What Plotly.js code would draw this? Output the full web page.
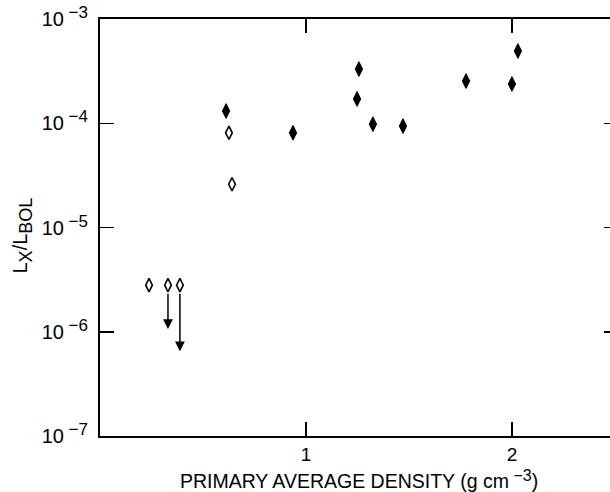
<!DOCTYPE html>
<html>
<head>
<meta charset="utf-8">
<script src="https://cdn.plot.ly/plotly-3.0.1.min.js"></script>
<style>
html, body { margin: 0; padding: 0; overflow: hidden; background: #fff; }
#chart { width: 618px; height: 492px; }
</style>
</head>
<body>
<div id="chart"></div>
<script>
// Detections (filled diamonds)
const filledX = [0.612, 0.937, 1.248, 1.257, 1.325, 1.471, 1.777, 2.000, 2.029];
const filledY = [1.31e-4, 8.1e-5, 1.71e-4, 3.31e-4, 9.8e-5, 9.4e-5, 2.54e-4, 2.38e-4, 4.93e-4];
// Open diamonds
const openX = [0.238, 0.330, 0.388, 0.626, 0.641];
const openY = [2.8e-6, 2.8e-6, 2.8e-6, 8.1e-5, 2.6e-5];
// Upper limits (arrows)
const limitX = [0.330, 0.388];
const limitFrom = [2.8e-6, 2.8e-6];
const limitTo = [1.06e-6, 6.5e-7];
// Ticks
const yTickVals = [1e-7, 1e-6, 1e-5, 1e-4, 1e-3];
const yExponents = ['−7', '−6', '−5', '−4', '−3'];
const xTickVals = [1, 2];
const xTickText = ['1', '2'];

const font = 'Liberation Sans, Arial, Helvetica, sans-serif';
const sup = (s, fs) => '<span style="font-size:' + fs + 'px;baseline-shift:45%"> ' + s + '</span>';
const sub = (s, fs) => '<span style="font-size:' + fs + 'px;baseline-shift:-25%">' + s + '</span>';
const yTickText = yExponents.map(e => '10' + sup(e, 17));

const traces = [
  {
    x: filledX, y: filledY, type: 'scatter', mode: 'markers',
    marker: {symbol: 'diamond-tall', size: 10.5, color: '#000', line: {color: '#000', width: 1}},
    hoverinfo: 'skip', showlegend: false
  },
  {
    x: openX, y: openY, type: 'scatter', mode: 'markers',
    marker: {symbol: 'diamond-tall-open', size: 9.5, color: '#000', line: {color: '#000', width: 1.6}},
    hoverinfo: 'skip', showlegend: false
  }
];

const annotations = limitX.map((x, i) => ({
  x: x, y: Math.log10(limitTo[i]), xref: 'x', yref: 'y',
  ax: x, ay: Math.log10(limitFrom[i]), axref: 'x', ayref: 'y',
  showarrow: true, arrowhead: 2, arrowsize: 1.3, arrowwidth: 1.5, arrowcolor: '#000',
  startstandoff: 7, text: ''
}));

// y-axis title as a rotated annotation so it can sit where the reference puts it
annotations.push({
  text: 'L' + sub('X', 18) + '/L' + sub('BOL', 18),
  xref: 'paper', yref: 'paper', x: 0, y: 0.5,
  xanchor: 'center', yanchor: 'middle', xshift: -78, yshift: -8,
  textangle: -90, showarrow: false,
  font: {family: font, size: 20, color: '#000'}
});

const layout = {
  width: 618, height: 492,
  margin: {l: 100, r: 0, t: 19, b: 56},
  paper_bgcolor: '#fff', plot_bgcolor: '#fff',
  font: {family: font, color: '#000', size: 20},
  showlegend: false,
  xaxis: {
    range: [0, 2.515], showgrid: false, zeroline: false,
    showline: true, linecolor: '#000', linewidth: 2, mirror: 'ticks',
    ticks: 'inside', ticklen: 14, tickwidth: 1.5, tickcolor: '#000',
    tickmode: 'array', tickvals: xTickVals, ticktext: xTickText,
    tickfont: {family: font, size: 19}, ticklabelstandoff: 0,
    title: {text: 'PRIMARY AVERAGE DENSITY (g cm' + sup('−3', 16) + ')', font: {family: font, size: 19.5}, standoff: 17}
  },
  yaxis: {
    type: 'log', range: [-7, -3], showgrid: false, zeroline: false,
    showline: true, linecolor: '#000', linewidth: 2, mirror: 'ticks',
    ticks: 'inside', ticklen: 14, tickwidth: 1.5, tickcolor: '#000',
    tickmode: 'array', tickvals: yTickVals, ticktext: yTickText,
    tickfont: {family: font, size: 20}, ticklabelstandoff: 6
  },
  annotations: annotations
};

Plotly.newPlot('chart', traces, layout, {displayModeBar: false, staticPlot: true});
</script>
</body>
</html>
